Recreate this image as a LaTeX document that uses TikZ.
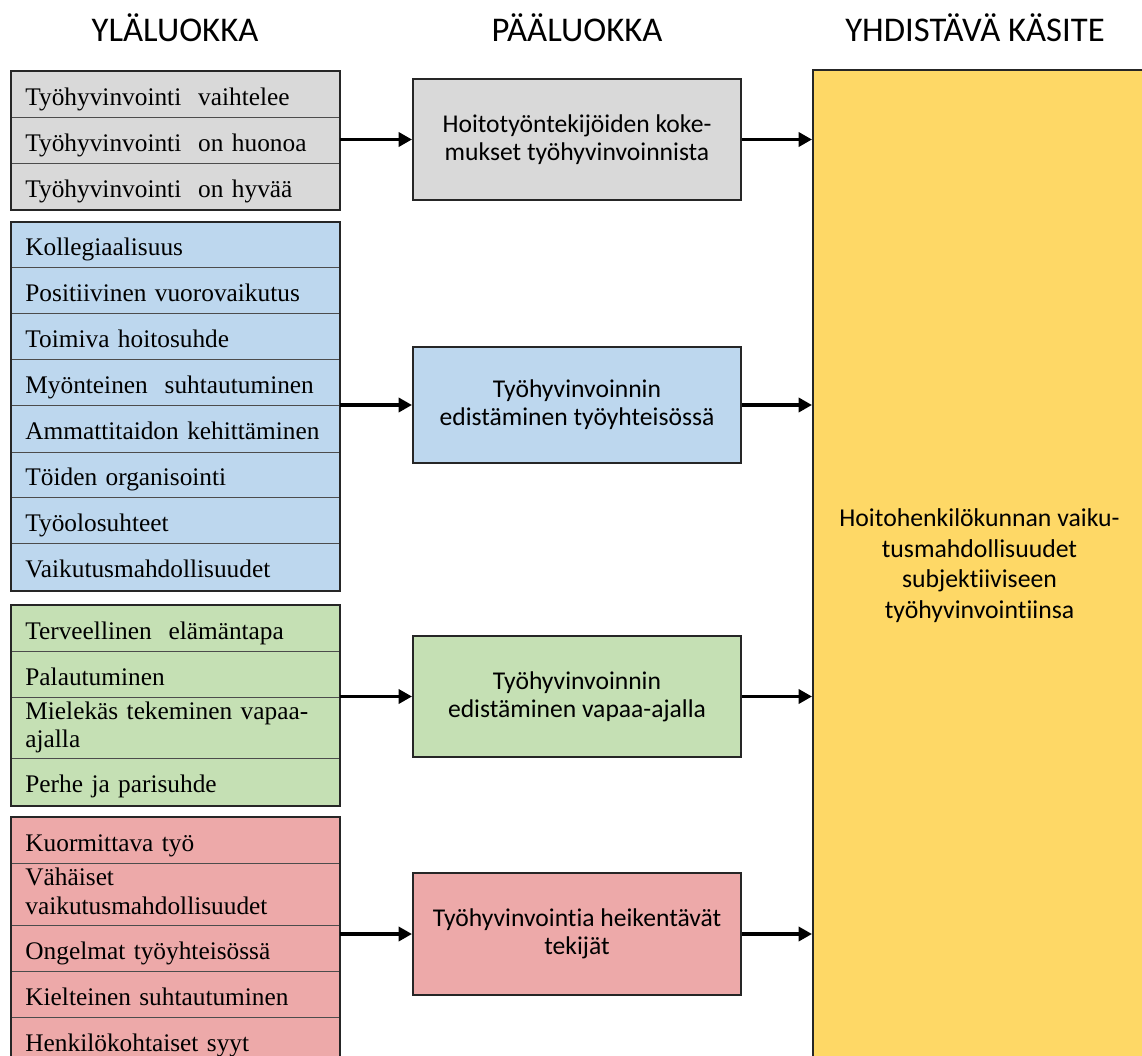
\documentclass[tikz,border=0pt]{standalone}
\usepackage{fontspec}
\setmainfont{Liberation Serif}
\newfontfamily\calfont[Ligatures=NoCommon]{Carlito}
\usetikzlibrary{arrows.meta}
\newdimen\pxu \pxu=0.75pt
\definecolor{greyfill}{HTML}{D9D9D9}
\definecolor{bluefill}{HTML}{BDD7EE}
\definecolor{greenfill}{HTML}{C5E0B4}
\definecolor{redfill}{HTML}{EDA9A9}
\definecolor{yellowfill}{HTML}{FED866}
\tikzset{
  rowbase/.style={draw=black!70,line width=0.6pt,anchor=north west,
    text width=300\pxu,inner xsep=14\pxu,inner ysep=0pt,align=left,
    font=\fontsize{19}{21.5}\selectfont},
  row/.style={rowbase,execute at begin node=\rule{0pt}{23pt},execute at end node=\strut},
  tworow/.style={rowbase,execute at begin node=\strut,execute at end node=\strut},
  frame/.style={draw=black!85,line width=1.5pt},
  catbox/.style={draw=black!85,line width=1.5pt,minimum width=328\pxu,
    align=center,font=\calfont\fontsize{19.2}{21}\selectfont},
  head/.style={font=\calfont\fontsize{26}{30}\selectfont},
  link/.style={line width=2.6pt,-{Triangle[length=10pt,width=10.5pt]}}
}
\begin{document}
\begin{tikzpicture}[x=0.75pt,y=-0.75pt]
\useasboundingbox (0,0) rectangle (1142,1056);
\clip (0,0) rectangle (1142,1056);
\node[head] (h1) at (175,28) {YLÄLUOKKA};
\node[head] (h2) at (577,28) {PÄÄLUOKKA};
\node[head] (h3) at (975,28) {YHDISTÄVÄ KÄSITE};
\node[row,fill=greyfill,minimum height=46\pxu] (v1) at (11,71) {Työhyvinvointi\ \ vaihtelee};
\node[row,fill=greyfill,minimum height=46\pxu] (v2) at (11,117) {Työhyvinvointi\ \ on huonoa};
\node[row,fill=greyfill,minimum height=46\pxu] (v3) at (11,163) {Työhyvinvointi\ \ on hyvää};
\draw[frame] (v1.north west) rectangle (v3.south east);
\node[row,fill=bluefill,minimum height=45\pxu] (k1) at (11,222) {Kollegiaalisuus};
\node[row,fill=bluefill,minimum height=46\pxu] (k2) at (11,267) {Positiivinen vuorovaikutus};
\node[row,fill=bluefill,minimum height=46\pxu] (k3) at (11,313) {Toimiva hoitosuhde};
\node[row,fill=bluefill,minimum height=46\pxu] (k4) at (11,359) {Myönteinen\ \ suhtautuminen};
\node[row,fill=bluefill,minimum height=47\pxu] (k5) at (11,405) {Ammattitaidon kehittäminen};
\node[row,fill=bluefill,minimum height=45\pxu] (k6) at (11,452) {Töiden organisointi};
\node[row,fill=bluefill,minimum height=46\pxu] (k7) at (11,497) {Työolosuhteet};
\node[row,fill=bluefill,minimum height=47\pxu] (k8) at (11,543) {Vaikutusmahdollisuudet};
\draw[frame] (k1.north west) rectangle (k8.south east);
\node[row,fill=greenfill,minimum height=46\pxu] (t1) at (11,605) {Terveellinen\ \ elämäntapa};
\node[row,fill=greenfill,minimum height=46\pxu] (t2) at (11,651) {Palautuminen};
\node[tworow,fill=greenfill,minimum height=61\pxu] (t3) at (11,697) {Mielekäs tekeminen vapaa-\\ajalla};
\node[row,fill=greenfill,minimum height=47\pxu] (t4) at (11,758) {Perhe ja parisuhde};
\draw[frame] (t1.north west) rectangle (t4.south east);
\node[row,fill=redfill,minimum height=46\pxu] (r1) at (11,817) {Kuormittava työ};
\node[tworow,fill=redfill,minimum height=62\pxu] (r2) at (11,863) {Vähäiset\\vaikutusmahdollisuudet};
\node[row,fill=redfill,minimum height=46\pxu] (r3) at (11,925) {Ongelmat työyhteisössä};
\node[row,fill=redfill,minimum height=46\pxu] (r4) at (11,971) {Kielteinen suhtautuminen};
\node[row,fill=redfill,minimum height=46\pxu] (r5) at (11,1017) {Henkilökohtaiset syyt};
\draw[frame] (r1.north west) rectangle (r5.south east);
\node[catbox,fill=greyfill,minimum height=121\pxu] (m1) at (577,139.5) {Hoitotyöntekijöiden koke-\\mukset työhyvinvoinnista};
\node[catbox,fill=bluefill,minimum height=116\pxu] (m2) at (577,405) {Työhyvinvoinnin\\edistäminen työyhteisössä};
\node[catbox,fill=greenfill,minimum height=121\pxu] (m3) at (577,696.5) {Työhyvinvoinnin\\edistäminen vapaa-ajalla};
\node[catbox,fill=redfill,minimum height=122\pxu] (m4) at (577,934) {Työhyvinvointia heikentävät\\tekijät};
\node[draw=black!85,line width=1.5pt,fill=yellowfill,minimum width=333\pxu,
  minimum height=990\pxu,align=center,font=\calfont\fontsize{19.3}{23}\selectfont]
  (yk) at (979.5,565.5) {Hoitohenkilökunnan vaiku-\\tusmahdollisuudet\\subjektiiviseen\\työhyvinvointiinsa};
\draw[link] (m1.west -| v2.east) -- (m1.west);
\draw[link] (m2.west -| k4.east) -- (m2.west);
\draw[link] (m3.west -| t2.east) -- (m3.west);
\draw[link] (m4.west -| r3.east) -- (m4.west);
\draw[link] (m1.east) -- (m1.east -| yk.west);
\draw[link] (m2.east) -- (m2.east -| yk.west);
\draw[link] (m3.east) -- (m3.east -| yk.west);
\draw[link] (m4.east) -- (m4.east -| yk.west);
\end{tikzpicture}
\end{document}
